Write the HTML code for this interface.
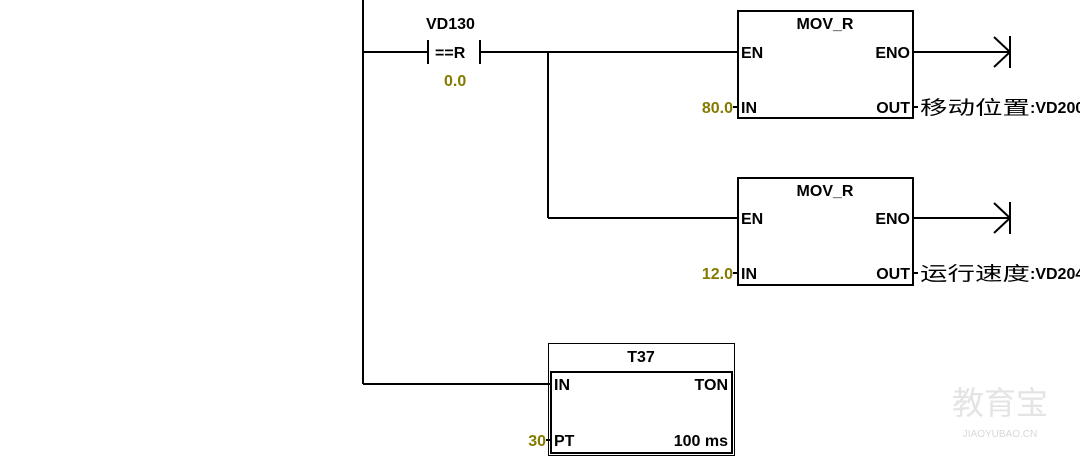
<!DOCTYPE html>
<html><head><meta charset="utf-8"><style>
body{margin:0;background:#fff;width:1080px;height:459px;overflow:hidden}
text{font-family:"Liberation Sans",Arial,sans-serif;font-weight:bold;font-size:16px;fill:#000}
.o{fill:#857a00}
.c{font-family:"Liberation Sans","Noto Sans CJK SC",sans-serif;font-weight:normal;font-size:19px}
</style></head><body>
<svg width="1080" height="459" xmlns="http://www.w3.org/2000/svg">
<g stroke="#000" stroke-width="2" fill="none">
<line x1="363" y1="0" x2="363" y2="384"/>
<line x1="363" y1="52" x2="428" y2="52"/>
<line x1="428" y1="40" x2="428" y2="64"/>
<line x1="480" y1="40" x2="480" y2="64"/>
<line x1="480" y1="52" x2="738" y2="52"/>
<line x1="548" y1="52" x2="548" y2="218"/>
<line x1="548" y1="218" x2="738" y2="218"/>
<rect x="738" y="11" width="175" height="107"/>
<rect x="738" y="178" width="175" height="107"/>
<line x1="913" y1="52" x2="1010" y2="52"/>
<line x1="994" y1="37" x2="1010" y2="52"/><line x1="994" y1="67" x2="1010" y2="52"/>
<line x1="1010" y1="36" x2="1010" y2="68"/>
<line x1="913" y1="218" x2="1010" y2="218"/>
<line x1="994" y1="203" x2="1010" y2="218"/><line x1="994" y1="233" x2="1010" y2="218"/>
<line x1="1010" y1="202" x2="1010" y2="234"/>
<line x1="733" y1="107" x2="738" y2="107"/><line x1="913" y1="107" x2="918" y2="107"/>
<line x1="733" y1="273" x2="738" y2="273"/><line x1="913" y1="273" x2="918" y2="273"/>
<line x1="363" y1="384" x2="551" y2="384"/>
<line x1="546" y1="440" x2="551" y2="440"/>
<rect x="551" y="372" width="181" height="81"/>
</g>
<rect x="548.5" y="343.5" width="186" height="112" fill="none" stroke="#000" stroke-width="1"/>
<text x="426" y="29">VD130</text>
<text x="435" y="58">==R</text>
<text x="444" y="86" class="o">0.0</text>
<text x="825" y="29" text-anchor="middle">MOV_R</text>
<text x="741" y="58">EN</text>
<text x="910" y="58" text-anchor="end">ENO</text>
<text x="741" y="113">IN</text>
<text x="910" y="113" text-anchor="end">OUT</text>
<text x="733" y="113" text-anchor="end" class="o">80.0</text>
<text x="920" y="114" class="c" textLength="110" lengthAdjust="spacingAndGlyphs">移动位置</text>
<text x="1030" y="113">:VD200</text>
<text x="825" y="196" text-anchor="middle">MOV_R</text>
<text x="741" y="224">EN</text>
<text x="910" y="224" text-anchor="end">ENO</text>
<text x="741" y="279">IN</text>
<text x="910" y="279" text-anchor="end">OUT</text>
<text x="733" y="279" text-anchor="end" class="o">12.0</text>
<text x="920" y="280" class="c" textLength="110" lengthAdjust="spacingAndGlyphs">运行速度</text>
<text x="1030" y="279">:VD204</text>
<text x="641" y="362" text-anchor="middle">T37</text>
<text x="554" y="390">IN</text>
<text x="728" y="390" text-anchor="end">TON</text>
<text x="554" y="446">PT</text>
<text x="728" y="446" text-anchor="end">100 ms</text>
<text x="546" y="446" text-anchor="end" class="o">30</text>
<text x="1000" y="414" text-anchor="middle" style="font-family:'Noto Sans CJK SC',sans-serif;font-size:32px;fill:#e4e4e4;font-weight:normal">教育宝</text>
<text x="1000" y="437" text-anchor="middle" style="font-size:10px;fill:#d8d8d8;font-weight:normal">JIAOYUBAO.CN</text>
</svg>
</body></html>
